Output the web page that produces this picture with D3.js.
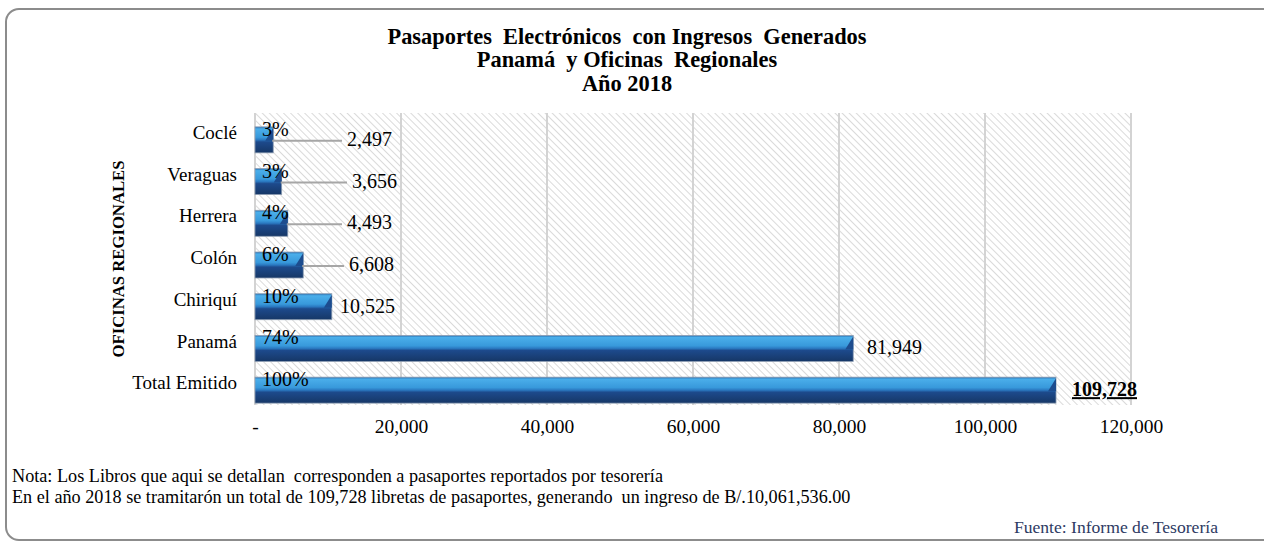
<!DOCTYPE html>
<html>
<head>
<meta charset="utf-8">
<script src="https://cdn.jsdelivr.net/npm/d3@7"></script>
<style>
  html, body { margin: 0; padding: 0; background: #fff; }
  svg { display: block; font-family: "Liberation Serif", "Times New Roman", serif; }
</style>
</head>
<body>
<svg id="chart" width="1264" height="541"></svg>
<script>
// Passport counts by office, 2018
const categories = ["Coclé", "Veraguas", "Herrera", "Colón", "Chiriquí", "Panamá", "Total Emitido"];
const values = [2497, 3656, 4493, 6608, 10525, 81949, 109728];
const percents = ["3%", "3%", "4%", "6%", "10%", "74%", "100%"];
const xTicks = [0, 20000, 40000, 60000, 80000, 100000, 120000];
const titleLines = ["Pasaportes  Electrónicos  con Ingresos  Generados", "Panamá  y Oficinas  Regionales", "Año 2018"];
const notes = [
  "Nota: Los Libros que aqui se detallan  corresponden a pasaportes reportados por tesorería",
  "En el año 2018 se tramitarón un total de 109,728 libretas de pasaportes, generando  un ingreso de B/.10,061,536.00"
];
const source = "Fuente: Informe de Tesorería";

const svg = d3.select("#chart");
const plot = { left: 255, right: 1131, top: 113, bottom: 405 };

const x = d3.scaleLinear().domain([0, 120000]).range([plot.left, plot.right]);
const y = d3.scaleBand().domain(categories).range([112, 404]).paddingInner(0).paddingOuter(0);

const defs = svg.append("defs");

// diagonal hatch for the plot background
const hatch = defs.append("pattern")
  .attr("id", "hatch").attr("patternUnits", "userSpaceOnUse")
  .attr("width", 5).attr("height", 5)
  .attr("patternTransform", "rotate(-45)");
hatch.append("rect").attr("width", 5).attr("height", 5).attr("fill", "#fff");
hatch.append("line").attr("x1", 0).attr("y1", 0).attr("x2", 0).attr("y2", 5)
  .attr("stroke", "#cbcbcb").attr("stroke-width", 1.4);

// vertical shading for the bevelled bars
const grad = defs.append("linearGradient").attr("id", "barGrad")
  .attr("x1", 0).attr("y1", 0).attr("x2", 0).attr("y2", 1);
[[0, "#2a6fb0"], [0.08, "#4aaeea"], [0.4, "#3899db"], [0.5, "#2a78c0"], [0.58, "#1d4a8c"], [1, "#163766"]]
  .forEach(([o, c]) => grad.append("stop").attr("offset", o).attr("stop-color", c));

// outer frame
svg.append("rect")
  .attr("x", 6).attr("y", 9).attr("width", 1275).attr("height", 531)
  .attr("rx", 13).attr("ry", 13)
  .attr("fill", "#fff").attr("stroke", "#8c8c8c").attr("stroke-width", 2);

// title
svg.append("g").selectAll("text").data(titleLines).join("text")
  .attr("x", 627).attr("y", (d, i) => 44 + i * 23.3)
  .attr("text-anchor", "middle")
  .attr("font-weight", "bold").attr("font-size", 22.4)
  .style("white-space", "pre")
  .text(d => d);

// plot background
svg.append("rect")
  .attr("x", plot.left).attr("y", plot.top)
  .attr("width", plot.right - plot.left).attr("height", plot.bottom - plot.top)
  .attr("fill", "url(#hatch)");

// gridlines
svg.append("g").selectAll("line").data(xTicks).join("line")
  .attr("x1", d => x(d)).attr("x2", d => x(d))
  .attr("y1", plot.top).attr("y2", plot.bottom)
  .attr("stroke", "#d3d3d3").attr("stroke-width", 2);

// x axis labels
const xAxis = d3.axisBottom(x).tickValues(xTicks).tickSize(0).tickPadding(0)
  .tickFormat(d => d === 0 ? "-" : d3.format(",")(d));
svg.append("g").attr("transform", `translate(0, ${plot.bottom + 14})`).call(xAxis)
  .call(g => g.select(".domain").remove())
  .call(g => g.selectAll("text").attr("font-size", 19.5).attr("font-family", "Liberation Serif").attr("fill", "#000").attr("dy", "0.71em"));

// category labels
const yAxis = d3.axisLeft(y).tickSize(0).tickPadding(0);
svg.append("g").attr("transform", `translate(${plot.left - 18}, 0)`).call(yAxis)
  .call(g => g.select(".domain").remove())
  .call(g => g.selectAll("text").attr("font-size", 19).attr("font-family", "Liberation Serif").attr("fill", "#000"));

// axis title
svg.append("text")
  .attr("transform", "translate(124, 259) rotate(-90)")
  .attr("text-anchor", "middle")
  .attr("font-weight", "bold").attr("font-size", 16.7)
  .text("OFICINAS REGIONALES");

// bars
const barH = 26;
const barOff = 7;
const bars = svg.append("g").selectAll("g").data(categories).join("g");
const bTop = d => y(d) + y.bandwidth() / 2 + barOff - barH / 2;

bars.append("rect")
  .attr("x", x(0)).attr("y", (d, i) => bTop(d))
  .attr("width", (d, i) => x(values[i]) - x(0)).attr("height", barH)
  .attr("fill", "url(#barGrad)")
  .attr("stroke", "#8f9fb3").attr("stroke-width", 0.8);

// bevelled end caps
bars.append("path")
  .attr("d", (d, i) => {
    const e = x(values[i]), t = bTop(d);
    return `M${e},${t + 1}L${e},${t + 14}L${e - 8},${t + 14}Z`;
  })
  .attr("fill", "#1d4c8e");

// leader lines for the short bars
const leaderIdx = [0, 1, 2, 3];
const labelStart = [347, 352, 347, 349, 340, 867, 1072];
svg.append("g").selectAll("line").data(leaderIdx).join("line")
  .attr("x1", i => x(values[i]) - 1)
  .attr("x2", i => labelStart[i] - 5)
  .attr("y1", i => bTop(categories[i]) + barH / 2 + 1)
  .attr("y2", i => bTop(categories[i]) + barH / 2 + 1)
  .attr("stroke", "#a6a6a6").attr("stroke-width", 2);

// percentage labels
svg.append("g").selectAll("text").data(categories).join("text")
  .attr("x", 262).attr("y", d => bTop(d) + 9)
  .attr("font-size", 20)
  .text((d, i) => percents[i]);

// value labels
svg.append("g").selectAll("text").data(categories).join("text")
  .attr("x", (d, i) => labelStart[i])
  .attr("y", d => bTop(d) + barH / 2 + 6)
  .attr("font-size", 20)
  .attr("font-weight", (d, i) => i === categories.length - 1 ? "bold" : "normal")
  .attr("text-decoration", (d, i) => i === categories.length - 1 ? "underline" : "none")
  .text((d, i) => d3.format(",")(values[i]));

// notes
svg.append("g").selectAll("text").data(notes).join("text")
  .attr("x", 12).attr("y", (d, i) => 482 + i * 21)
  .attr("font-size", 18.2)
  .style("white-space", "pre")
  .text(d => d);

svg.append("text")
  .attr("x", 1218).attr("y", 533)
  .attr("text-anchor", "end")
  .attr("font-size", 17.6).attr("fill", "#2d3a63")
  .text(source);
</script>
</body>
</html>
